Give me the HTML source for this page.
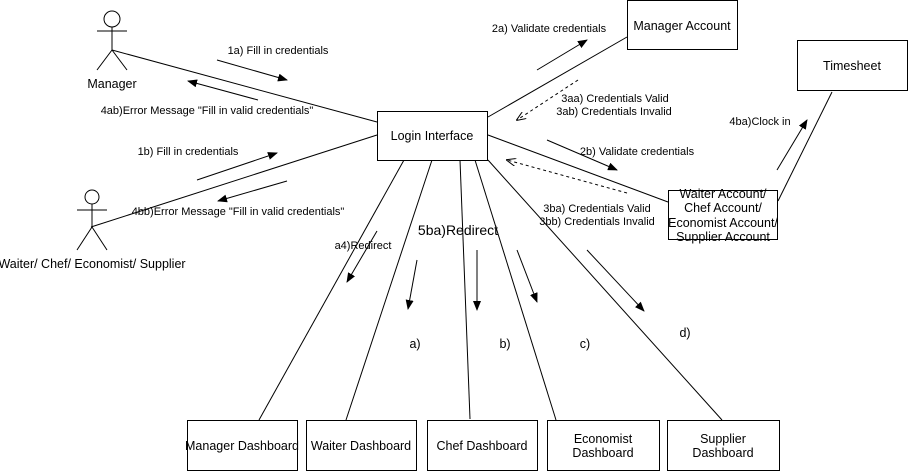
<!DOCTYPE html>
<html><head><meta charset="utf-8"><style>
body{margin:0;background:#fff}
svg{display:block}
text{font-family:"Liberation Sans",Arial,sans-serif;fill:#000}
</style></head><body>
<svg width="908" height="471" viewBox="0 0 908 471" xmlns="http://www.w3.org/2000/svg">
<defs>
<marker id="a" markerWidth="10" markerHeight="8" refX="9" refY="4" orient="auto" markerUnits="userSpaceOnUse"><path d="M0,0 L10,4 L0,8 Z" fill="#000"/></marker>
<marker id="o" markerWidth="10" markerHeight="8" refX="9" refY="4" orient="auto" markerUnits="userSpaceOnUse"><path d="M0,0 L10,4 L0,8" fill="none" stroke="#000"/></marker>
</defs>
<g stroke="#000" fill="none" stroke-width="1">
<circle cx="112" cy="19" r="8" fill="#fff"/>
<line x1="112" y1="27" x2="112" y2="50"/><line x1="97" y1="31" x2="127" y2="31"/>
<line x1="112" y1="50" x2="97" y2="70"/><line x1="112" y1="50" x2="127" y2="70"/>
<circle cx="92" cy="197" r="7" fill="#fff"/>
<line x1="92" y1="204" x2="92" y2="227"/><line x1="77" y1="210" x2="107" y2="210"/>
<line x1="92" y1="227" x2="77" y2="250"/><line x1="92" y1="227" x2="107" y2="250"/>
<line x1="112" y1="50" x2="377" y2="122"/>
<line x1="91" y1="227" x2="377" y2="135"/>
<line x1="488" y1="117" x2="627" y2="37"/>
<line x1="488" y1="135" x2="668" y2="202"/>
<line x1="778" y1="201" x2="832" y2="92"/>
<line x1="404" y1="160" x2="259" y2="420"/>
<line x1="432" y1="160" x2="346" y2="420"/>
<line x1="460" y1="160" x2="470" y2="419"/>
<line x1="475" y1="160" x2="556" y2="420"/>
<line x1="488" y1="160" x2="722" y2="420"/>
<rect x="377.5" y="111.5" width="110" height="49" fill="#fff"/>
<rect x="627.5" y="0.5" width="110" height="49" fill="#fff"/>
<rect x="797.5" y="40.5" width="110" height="50" fill="#fff"/>
<rect x="668.5" y="190.5" width="109" height="49" fill="#fff"/>
<rect x="187.5" y="420.5" width="110" height="50" fill="#fff"/>
<rect x="306.5" y="420.5" width="110" height="50" fill="#fff"/>
<rect x="427.5" y="420.5" width="110" height="50" fill="#fff"/>
<rect x="547.5" y="420.5" width="112" height="50" fill="#fff"/>
<rect x="667.5" y="420.5" width="112" height="50" fill="#fff"/>
<line x1="217" y1="60" x2="287" y2="80" marker-end="url(#a)"/>
<line x1="258" y1="100" x2="188" y2="81" marker-end="url(#a)"/>
<line x1="197" y1="180" x2="277" y2="153" marker-end="url(#a)"/>
<line x1="287" y1="181" x2="218" y2="201" marker-end="url(#a)"/>
<line x1="537" y1="70" x2="587" y2="40" marker-end="url(#a)"/>
<line x1="578" y1="80" x2="517" y2="120" stroke-dasharray="3,3" marker-end="url(#o)"/>
<line x1="547" y1="140" x2="617" y2="170" marker-end="url(#a)"/>
<line x1="627" y1="193" x2="507" y2="160" stroke-dasharray="3,3" marker-end="url(#o)"/>
<line x1="777" y1="170" x2="807" y2="120" marker-end="url(#a)"/>
<line x1="377" y1="231" x2="347" y2="282" marker-end="url(#a)"/>
<line x1="417" y1="260" x2="408" y2="309" marker-end="url(#a)"/>
<line x1="477" y1="250" x2="477" y2="310" marker-end="url(#a)"/>
<line x1="517" y1="250" x2="537" y2="302" marker-end="url(#a)"/>
<line x1="587" y1="250" x2="644" y2="311" marker-end="url(#a)"/>
</g>
<g text-anchor="middle" style="font-size:11px">
<text x="112" y="88" style="font-size:12.5px">Manager</text>
<text x="92" y="268" style="font-size:12.5px">Waiter/ Chef/ Economist/ Supplier</text>
<text x="432" y="140" style="font-size:12.5px">Login Interface</text>
<text x="682" y="30" style="font-size:12.5px">Manager Account</text>
<text x="852" y="70" style="font-size:12.5px">Timesheet</text>
<text x="723" y="198" style="font-size:12.5px">Waiter Account/</text>
<text x="723" y="212" style="font-size:12.5px">Chef Account/</text>
<text x="723" y="227" style="font-size:12.5px">Economist Account/</text>
<text x="723" y="241" style="font-size:12.5px">Supplier Account</text>
<text x="242" y="450" style="font-size:12.5px">Manager Dashboard</text>
<text x="361" y="450" style="font-size:12.5px">Waiter Dashboard</text>
<text x="482" y="450" style="font-size:12.5px">Chef Dashboard</text>
<text x="603" y="443" style="font-size:12.5px">Economist</text>
<text x="603" y="457" style="font-size:12.5px">Dashboard</text>
<text x="723" y="443" style="font-size:12.5px">Supplier</text>
<text x="723" y="457" style="font-size:12.5px">Dashboard</text>
<text x="278" y="54">1a) Fill in credentials</text>
<text x="207" y="114">4ab)Error Message "Fill in valid credentials"</text>
<text x="188" y="155">1b) Fill in credentials</text>
<text x="238" y="215">4bb)Error Message "Fill in valid credentials"</text>
<text x="549" y="32">2a) Validate credentials</text>
<text x="615" y="102">3aa) Credentials Valid</text>
<text x="614" y="115">3ab) Credentials Invalid</text>
<text x="637" y="155">2b) Validate credentials</text>
<text x="597" y="212">3ba) Credentials Valid</text>
<text x="597" y="225">3bb) Credentials Invalid</text>
<text x="760" y="125">4ba)Clock in</text>
<text x="363" y="249">a4)Redirect</text>
<text x="458" y="235" style="font-size:14px">5ba)Redirect</text>
<text x="415" y="348" style="font-size:12.5px">a)</text>
<text x="505" y="348" style="font-size:12.5px">b)</text>
<text x="585" y="348" style="font-size:12.5px">c)</text>
<text x="685" y="337" style="font-size:12.5px">d)</text>
</g>
</svg>
</body></html>
